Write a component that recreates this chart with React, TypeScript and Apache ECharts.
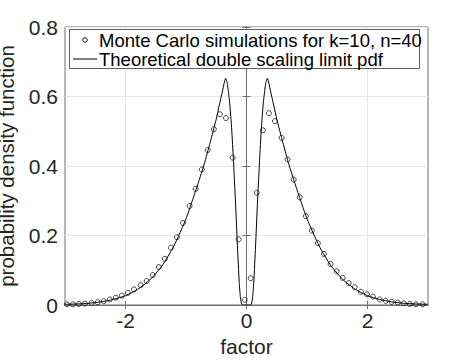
import React, { useEffect, useRef } from "react";
import * as echarts from "echarts";

// Monte Carlo histogram points (bin centres and densities)
const mcX = [
  -2.97, -2.87, -2.77, -2.67, -2.56, -2.46, -2.36, -2.26, -2.16, -2.06,
  -1.96, -1.86, -1.75, -1.65, -1.55, -1.45, -1.35, -1.25, -1.15, -1.05,
  -0.94, -0.84, -0.74, -0.64, -0.54, -0.44, -0.34, -0.23, -0.13, -0.03,
  0.07, 0.17, 0.27, 0.37, 0.47, 0.58, 0.68, 0.78, 0.88, 0.98,
  1.08, 1.18, 1.28, 1.39, 1.49, 1.59, 1.69, 1.79, 1.89, 1.99,
  2.09, 2.2, 2.3, 2.4, 2.5, 2.6, 2.7, 2.8, 2.91,
];
const mcY = [
  0.002, 0.002, 0.003, 0.004, 0.006, 0.008, 0.011, 0.016, 0.021, 0.027,
  0.035, 0.045, 0.057, 0.069, 0.086, 0.109, 0.133, 0.165, 0.195, 0.236,
  0.285, 0.334, 0.39, 0.446, 0.506, 0.549, 0.538, 0.424, 0.189, 0.015,
  0.077, 0.323, 0.503, 0.552, 0.529, 0.481, 0.419, 0.361, 0.31, 0.256,
  0.214, 0.178, 0.147, 0.118, 0.097, 0.078, 0.063, 0.051, 0.038, 0.031,
  0.024, 0.016, 0.012, 0.009, 0.007, 0.005, 0.003, 0.002, 0.002,
];

// Theoretical double scaling limit pdf
const curveX = [
  -3.0, -2.8, -2.6, -2.4, -2.2, -2.0, -1.8, -1.6, -1.4, -1.2,
  -1.0, -0.9, -0.8, -0.7, -0.6, -0.5, -0.45, -0.4, -0.37, -0.345,
  -0.32, -0.3, -0.28, -0.25, -0.22, -0.2, -0.18, -0.15, -0.12, -0.1,
  -0.08, -0.06, 0, 0.06, 0.08, 0.1, 0.12, 0.15, 0.18, 0.2,
  0.22, 0.25, 0.28, 0.3, 0.32, 0.345, 0.37, 0.4, 0.45, 0.5,
  0.6, 0.7, 0.8, 0.9, 1.0, 1.2, 1.4, 1.6, 1.8, 2.0,
  2.2, 2.4, 2.6, 2.8, 3.0,
];
const curveY = [
  0.002, 0.003, 0.005, 0.009, 0.016, 0.027, 0.045, 0.072, 0.112, 0.17,
  0.248, 0.298, 0.35, 0.405, 0.468, 0.535, 0.575, 0.613, 0.638, 0.652,
  0.64, 0.615, 0.585, 0.52, 0.43, 0.36, 0.29, 0.17, 0.065, 0.02,
  0.002, 0.0, 0.0, 0.0, 0.002, 0.02, 0.065, 0.17, 0.29, 0.36,
  0.43, 0.52, 0.585, 0.615, 0.64, 0.652, 0.638, 0.613, 0.575, 0.535,
  0.468, 0.405, 0.35, 0.298, 0.248, 0.17, 0.112, 0.072, 0.045, 0.027,
  0.016, 0.009, 0.005, 0.003, 0.002,
];

const xTicks = [-2, 0, 2];

const legendNames = [
  "Monte Carlo simulations for k=10, n=40",
  "Theoretical double scaling limit pdf",
];

const FONT = '"Liberation Sans", Arial, Helvetica, sans-serif';
const AXIS_COLOR = "#6e6e6e";
const GRID_COLOR = "#e6e6e6";
const LABEL_COLOR = "#262626";

export default function App() {
  const ref = useRef<HTMLDivElement>(null);

  useEffect(() => {
    if (!ref.current) return;
    const chart = echarts.init(ref.current, undefined, { renderer: "svg" });

    const tickStyle = { show: true, inside: true, length: 4, lineStyle: { color: AXIS_COLOR, width: 1 } };

    chart.setOption({
      animation: false,
      backgroundColor: "#ffffff",
      grid: {
        left: 65,
        right: 45,
        top: 27,
        bottom: 55,
        containLabel: false,
        outerBoundsMode: "none",
        show: true,
        borderColor: AXIS_COLOR,
        borderWidth: 1,
        backgroundColor: "transparent",
      },
      xAxis: [
        {
          type: "value",
          min: -3,
          max: 3,
          name: "factor",
          nameLocation: "middle",
          nameGap: 23,
          nameTextStyle: { fontFamily: FONT, fontSize: 21, color: LABEL_COLOR },
          axisLine: { show: true, lineStyle: { color: AXIS_COLOR } },
          axisTick: { ...tickStyle, customValues: xTicks },
          axisLabel: {
            customValues: xTicks,
            fontFamily: FONT,
            fontSize: 21,
            color: LABEL_COLOR,
            margin: 5,
          },
          splitLine: { show: true, lineStyle: { color: GRID_COLOR, width: 1 } },
        },
        {
          type: "value",
          position: "top",
          min: -3,
          max: 3,
          axisLine: { show: true, lineStyle: { color: AXIS_COLOR } },
          axisTick: { ...tickStyle, customValues: xTicks },
          axisLabel: { show: false },
          splitLine: { show: false },
        },
      ],
      yAxis: [
        {
          type: "value",
          min: 0,
          max: 0.8,
          interval: 0.2,
          name: "probability density function",
          nameLocation: "middle",
          nameGap: 35,
          nameTextStyle: {
            fontFamily: FONT,
            fontSize: 20.5,
            lineHeight: 22,
            padding: 0,
            color: LABEL_COLOR,
          },
          axisLine: { show: true, lineStyle: { color: AXIS_COLOR } },
          axisTick: tickStyle,
          axisLabel: {
            fontFamily: FONT,
            fontSize: 21,
            color: LABEL_COLOR,
            margin: 7,
            formatter: (v: number) => String(Number(v.toFixed(1))),
          },
          splitLine: { show: true, lineStyle: { color: GRID_COLOR, width: 1 } },
        },
        {
          type: "value",
          position: "right",
          min: 0,
          max: 0.8,
          interval: 0.2,
          axisLine: { show: true, lineStyle: { color: AXIS_COLOR } },
          axisTick: tickStyle,
          axisLabel: { show: false },
          splitLine: { show: false },
        },
      ],
      series: [
        {
          name: legendNames[1],
          type: "line",
          data: curveX.map((x, i) => [x, curveY[i]]),
          showSymbol: false,
          symbol: "none",
          smooth: 0.2,
          lineStyle: { color: "#000000", width: 1 },
          z: 3,
        },
        {
          name: legendNames[0],
          type: "scatter",
          data: mcX.map((x, i) => [x, mcY[i]]),
          symbol: "circle",
          symbolSize: 5,
          itemStyle: { color: "rgba(0,0,0,0)", borderColor: "#000000", borderWidth: 0.9 },
          z: 4,
        },
      ],
      graphic: [
        {
          type: "rect",
          shape: { x: 69.5, y: 29.5, width: 350, height: 39 },
          style: { fill: "#ffffff", stroke: "#333333", lineWidth: 0.8 },
          z: 100,
        },
        {
          type: "circle",
          shape: { cx: 85, cy: 40, r: 2.3 },
          style: { fill: "#ffffff", stroke: "#000000", lineWidth: 0.9 },
          z: 101,
        },
        {
          type: "line",
          shape: { x1: 73, y1: 59, x2: 97, y2: 59 },
          style: { stroke: "#000000", lineWidth: 1 },
          z: 101,
        },
        {
          type: "text",
          x: 99,
          y: 40,
          style: {
            text: legendNames[0],
            fontFamily: FONT,
            fontSize: 18.5,
            fill: "#000000",
            verticalAlign: "middle",
          },
          z: 101,
        },
        {
          type: "text",
          x: 99,
          y: 59,
          style: {
            text: legendNames[1],
            fontFamily: FONT,
            fontSize: 18.5,
            fill: "#000000",
            verticalAlign: "middle",
          },
          z: 101,
        },
      ],
    });

    return () => chart.dispose();
  }, []);

  return (
    <div
      ref={ref}
      style={{ position: "fixed", left: 0, top: 0, width: 473, height: 360 }}
    />
  );
}
